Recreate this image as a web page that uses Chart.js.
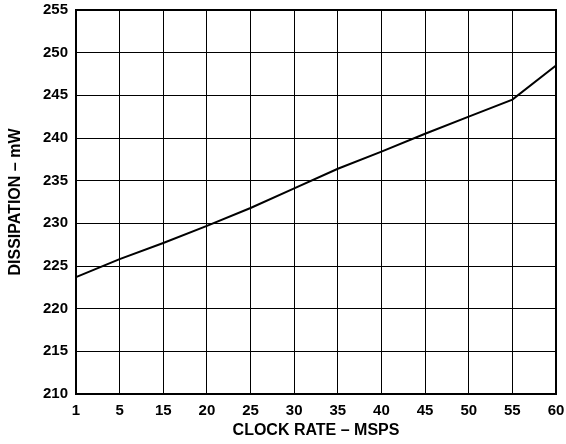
<!DOCTYPE html>
<html lang="en">
<head>
  <meta charset="UTF-8" />
  <title>Dissipation vs Clock Rate</title>
  <script src="https://cdn.jsdelivr.net/npm/chart.js@4"></script>
  <style>
    body { margin: 0; background: #fff; }
    #wrap { width: 566px; height: 444px; }
  </style>
</head>
<body>
  <div id="wrap">
    <canvas id="dissChart" width="566" height="444"></canvas>
  </div>
  <script>
    // clock rate labels (equally spaced in the original plot)
    const clockRates = ["1", "5", "15", "20", "25", "30", "35", "40", "45", "50", "55", "60"];
    // dissipation in mW read at each label
    const dissipation = [223.7, 225.8, 227.7, 229.7, 231.8, 234.1, 236.4, 238.4, 240.5, 242.5, 244.5, 248.5];
    const yTicks = [210, 215, 220, 225, 230, 235, 240, 245, 250, 255];

    const tickFont = { family: "'Liberation Sans', Arial, sans-serif", size: 15, weight: "bold" };
    const titleFont = { family: "'Liberation Sans', Arial, sans-serif", size: 16, weight: "bold" };

    // thick frame round the plot area
    const framePlugin = {
      id: "frame",
      afterDraw(chart) {
        const { ctx, chartArea: a } = chart;
        ctx.save();
        ctx.strokeStyle = "#000";
        ctx.lineWidth = 2;
        ctx.strokeRect(a.left, a.top, a.right - a.left, a.bottom - a.top);
        ctx.restore();
      }
    };

    new Chart(document.getElementById("dissChart"), {
      type: "line",
      data: {
        labels: clockRates,
        datasets: [{
          data: dissipation,
          borderColor: "#000",
          borderWidth: 2,
          pointRadius: 0,
          tension: 0,
          fill: false
        }]
      },
      options: {
        responsive: false,
        animation: false,
        layout: { padding: { top: 0, right: 0, left: 4, bottom: 0 } },
        plugins: { legend: { display: false }, tooltip: { enabled: false } },
        scales: {
          x: {
            type: "category",
            offset: false,
            grid: { color: "#000", lineWidth: 1, drawTicks: false },
            border: { color: "#000", width: 2 },
            ticks: { color: "#000", font: tickFont, padding: 8, maxRotation: 0, autoSkip: false },
            title: { display: true, text: "CLOCK RATE – MSPS", color: "#000", font: titleFont, padding: { top: 2 } },
            afterFit: (s) => { s.height = 50; s.paddingRight = 10; }
          },
          y: {
            min: 210,
            max: 255,
            afterBuildTicks: (s) => { s.ticks = yTicks.map(v => ({ value: v })); },
            grid: { color: "#000", lineWidth: 1, drawTicks: false },
            border: { color: "#000", width: 2 },
            ticks: { color: "#000", font: tickFont, padding: 8 },
            title: { display: true, text: "DISSIPATION – mW", color: "#000", font: titleFont, padding: { top: 2, bottom: 4 } },
            afterFit: (s) => { s.width = 72; s.paddingTop = 10; }
          }
        }
      },
      plugins: [framePlugin]
    });
  </script>
</body>
</html>
